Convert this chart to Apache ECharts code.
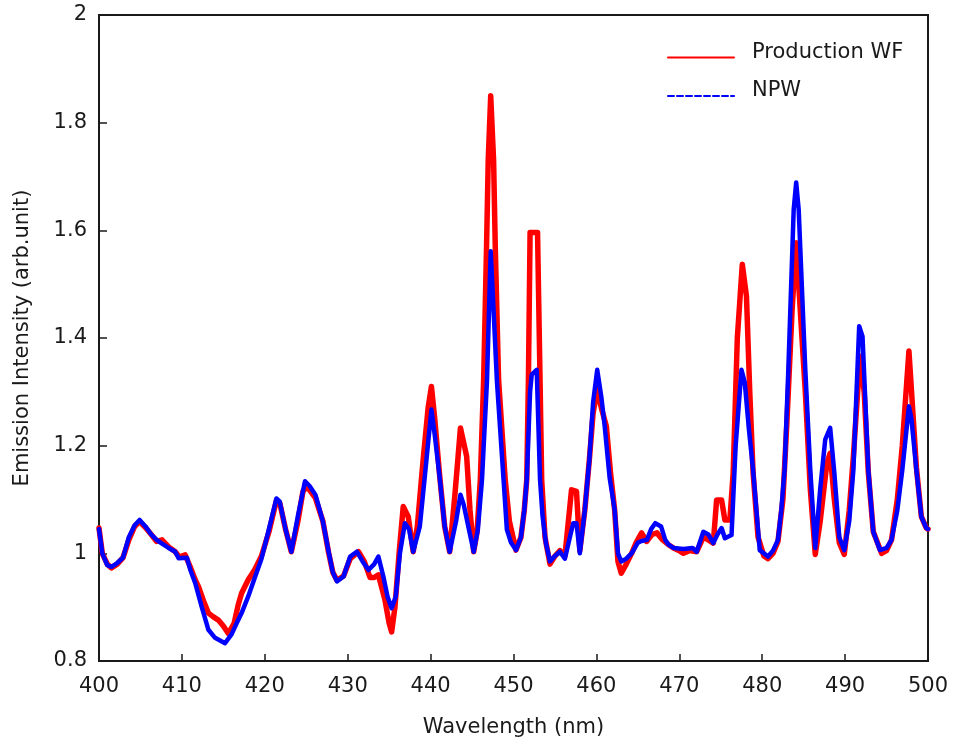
<!DOCTYPE html>
<html>
<head>
<meta charset="utf-8">
<script src="https://cdn.jsdelivr.net/npm/echarts@6/dist/echarts.min.js"></script>
<style>html,body{margin:0;padding:0;background:#fff;}#chart{width:963px;height:749px;}</style>
</head>
<body>
<div id="chart"></div>
<script>
var seriesNames = ['Production WF', 'NPW'];
var xTicks = [400, 410, 420, 430, 440, 450, 460, 470, 480, 490, 500];
var yTicks = [0.8, 1, 1.2, 1.4, 1.6, 1.8, 2];

var wavelengthPWF = [400.0,400.4,401.0,401.5,402.2,402.9,403.6,404.3,404.9,405.6,406.3,406.96,407.6,408.4,409.2,409.7,410.4,411.0,411.6,412.0,412.6,413.2,413.8,414.4,415.0,415.6,416.3,416.8,417.2,418.0,418.8,419.6,420.5,421.4,421.8,422.5,423.2,424.0,424.6,425.1,426.1,427.0,427.7,428.2,428.7,429.5,430.3,431.3,432.0,432.7,433.2,433.7,434.5,435.0,435.3,435.7,436.2,436.7,437.3,437.9,438.4,439.1,439.7,440.1,440.5,441.1,441.7,442.3,442.95,443.6,444.0,444.35,444.75,445.2,445.6,446.0,446.4,446.75,446.95,447.25,447.6,447.8,448.2,449.0,449.5,450.3,450.9,451.3,451.6,451.8,452.0,452.9,453.2,453.4,453.8,454.4,455.0,455.6,456.2,457.0,457.6,458.0,458.6,459.15,459.6,460.1,460.6,461.2,461.7,462.2,462.6,463.0,463.6,464.25,464.8,465.45,466.05,466.7,467.3,468.0,468.7,469.3,470.0,470.5,471.2,472.1,472.9,473.5,474.1,474.5,475.1,475.5,476.1,476.5,477.0,477.6,478.1,478.5,478.9,479.5,480.2,480.7,481.3,481.9,482.5,483.0,483.6,484.1,484.6,485.2,485.8,486.4,487.0,487.8,488.2,488.7,489.3,489.9,490.5,491.0,491.8,492.3,492.8,493.4,494.4,495.0,495.6,496.3,496.9,497.7,498.1,498.6,499.2,499.8,500.0];
var intensityPWF = [1.047,1.0,0.980,0.973,0.980,0.992,1.025,1.050,1.059,1.048,1.035,1.022,1.025,1.012,1.003,0.993,0.997,0.975,0.951,0.938,0.912,0.889,0.882,0.876,0.865,0.851,0.870,0.905,0.926,0.951,0.970,0.995,1.040,1.098,1.094,1.045,1.003,1.060,1.115,1.124,1.103,1.060,1.001,0.965,0.950,0.958,0.990,1.003,0.985,0.955,0.955,0.960,0.913,0.870,0.854,0.900,1.000,1.087,1.068,1.003,1.050,1.174,1.270,1.310,1.250,1.143,1.050,1.003,1.112,1.233,1.205,1.180,1.081,1.003,1.040,1.137,1.323,1.570,1.730,1.850,1.730,1.570,1.323,1.137,1.060,1.006,1.030,1.080,1.137,1.323,1.596,1.596,1.323,1.137,1.030,0.980,0.995,1.005,0.995,1.118,1.115,1.005,1.080,1.174,1.260,1.304,1.270,1.236,1.150,1.081,0.985,0.963,0.980,1.000,1.020,1.038,1.022,1.035,1.038,1.025,1.016,1.010,1.005,1.000,1.005,1.003,1.030,1.025,1.019,1.099,1.099,1.062,1.062,1.150,1.400,1.537,1.478,1.300,1.150,1.030,0.995,0.990,1.000,1.022,1.100,1.250,1.450,1.577,1.450,1.300,1.120,0.998,1.060,1.167,1.186,1.100,1.020,0.998,1.080,1.180,1.366,1.300,1.150,1.040,1.000,1.005,1.025,1.100,1.200,1.376,1.280,1.160,1.068,1.047,1.045];

var wavelengthNPW = [400.0,400.4,401.0,401.5,402.2,402.9,403.6,404.3,404.9,405.6,406.3,406.96,407.6,408.4,409.2,409.6,410.6,411.0,411.6,412.4,413.2,414.0,414.6,415.2,416.0,416.6,417.2,418.0,418.8,419.6,420.5,421.4,421.8,422.5,423.2,424.0,424.85,425.4,426.1,427.0,427.7,428.2,428.7,429.5,430.3,431.1,431.8,432.5,433.2,433.7,434.3,434.8,435.3,435.8,436.3,436.9,437.4,437.9,438.7,439.5,440.1,440.5,441.1,441.7,442.3,443.1,443.6,444.0,444.55,445.2,445.7,446.2,446.8,447.25,447.6,448.0,448.8,449.2,449.7,450.3,450.9,451.3,451.6,452.0,452.2,452.8,453.2,453.5,453.9,454.4,455.0,455.6,456.2,456.8,457.2,457.6,458.0,458.6,459.15,459.6,460.1,460.6,461.0,461.6,462.2,462.6,463.0,463.6,464.25,465.0,465.45,466.1,466.6,467.1,467.8,468.3,468.7,469.3,470.5,471.6,472.1,472.9,473.5,474.1,474.6,475.1,475.5,476.3,476.8,477.5,477.9,478.4,478.9,479.7,480.7,481.3,481.9,482.3,482.7,483.15,483.8,484.1,484.4,485.2,485.8,486.4,487.0,487.6,488.2,488.7,489.3,489.9,490.5,491.0,491.7,492.1,492.8,493.4,494.2,495.0,495.6,496.3,496.9,497.7,498.0,498.6,499.2,499.8,500.0];
var intensityNPW = [1.045,1.000,0.978,0.975,0.982,0.992,1.030,1.052,1.062,1.050,1.035,1.025,1.018,1.010,1.003,0.991,0.992,0.970,0.945,0.900,0.858,0.843,0.838,0.833,0.850,0.870,0.889,0.920,0.955,0.990,1.045,1.102,1.096,1.045,1.003,1.070,1.134,1.125,1.109,1.060,1.003,0.965,0.948,0.957,0.994,1.003,0.985,0.969,0.980,0.994,0.957,0.920,0.898,0.920,1.000,1.056,1.045,1.003,1.050,1.174,1.267,1.220,1.140,1.050,1.003,1.062,1.109,1.090,1.050,1.003,1.044,1.137,1.320,1.561,1.450,1.320,1.137,1.044,1.020,1.006,1.030,1.080,1.137,1.300,1.332,1.341,1.137,1.070,1.020,0.985,0.995,1.003,0.990,1.030,1.056,1.056,1.000,1.080,1.174,1.280,1.341,1.290,1.236,1.140,1.081,1.000,0.985,0.990,1.000,1.020,1.023,1.025,1.045,1.056,1.050,1.025,1.016,1.010,1.008,1.010,1.003,1.040,1.035,1.019,1.035,1.047,1.028,1.034,1.200,1.341,1.317,1.230,1.155,1.006,0.994,1.005,1.025,1.080,1.155,1.341,1.639,1.689,1.639,1.341,1.155,1.010,1.120,1.211,1.233,1.150,1.030,1.006,1.060,1.155,1.422,1.403,1.155,1.040,1.006,1.010,1.025,1.080,1.155,1.273,1.250,1.155,1.068,1.047,1.045];

function pairs(xs, ys) { return xs.map(function (x, i) { return [x, ys[i]]; }); }

var FONT = 'DejaVu Sans';
var chart = echarts.init(document.getElementById('chart'), null, { renderer: 'canvas' });
chart.setOption({
  backgroundColor: '#ffffff',
  animation: false,
  grid: { left: 99, right: 35, top: 15, bottom: 88, show: true, borderColor: '#1a1a1a', borderWidth: 2, backgroundColor: 'transparent' },
  legend: {
    orient: 'vertical', left: 667, top: 42, padding: 0,
    itemWidth: 66, itemHeight: 20, itemGap: 15,
    formatter: function (name) { return '{t|' + name + '}'; },
    textStyle: { fontFamily: FONT, fontSize: 21, color: '#1a1a1a',
      rich: { t: { fontFamily: FONT, fontSize: 21, color: '#1a1a1a', padding: [0, 0, 10, 13] } } },
    data: [
      { name: seriesNames[0], itemStyle: { opacity: 0, color: 'transparent', borderWidth: 0 }, lineStyle: { width: 2, type: 'solid', color: '#ff0000' } },
      { name: seriesNames[1], itemStyle: { opacity: 0, color: 'transparent', borderWidth: 0 }, lineStyle: { width: 2, type: [6, 3], color: '#0000ff' } }
    ]
  },
  xAxis: {
    type: 'value', min: xTicks[0], max: xTicks[xTicks.length - 1], interval: 10,
    name: 'Wavelength (nm)', nameLocation: 'middle', nameGap: 56,
    nameTextStyle: { fontFamily: FONT, fontSize: 21, color: '#1a1a1a' },
    axisLine: { show: true, lineStyle: { color: '#1a1a1a', width: 2 } },
    axisTick: { show: true, inside: true, length: 7, lineStyle: { color: '#1a1a1a', width: 1.5 } },
    axisLabel: { fontFamily: FONT, fontSize: 21, color: '#1a1a1a', margin: 15 },
    splitLine: { show: false }
  },
  yAxis: {
    type: 'value', min: yTicks[0], max: yTicks[yTicks.length - 1], interval: 0.2,
    name: 'Emission Intensity (arb.unit)', nameLocation: 'middle', nameGap: 66,
    nameTextStyle: { fontFamily: FONT, fontSize: 21, color: '#1a1a1a' },
    axisLine: { show: true, lineStyle: { color: '#1a1a1a', width: 2 } },
    axisTick: { show: true, inside: true, length: 8, lineStyle: { color: '#1a1a1a', width: 1.5 } },
    axisLabel: { fontFamily: FONT, fontSize: 21, color: '#1a1a1a', margin: 12,
      formatter: function (v) { return String(Math.round(v * 10) / 10); } },
    splitLine: { show: false }
  },
  series: [
    { name: seriesNames[0], type: 'line', data: pairs(wavelengthPWF, intensityPWF), symbol: 'none',
      lineStyle: { color: '#ff0000', width: 5.5, join: 'round', cap: 'round' }, itemStyle: { color: '#ff0000' }, z: 2 },
    { name: seriesNames[1], type: 'line', data: pairs(wavelengthNPW, intensityNPW), symbol: 'none',
      lineStyle: { color: '#0000ff', width: 4.5, join: 'round', cap: 'round' }, itemStyle: { color: '#0000ff' }, z: 3 }
  ]
});
</script>
</body>
</html>
